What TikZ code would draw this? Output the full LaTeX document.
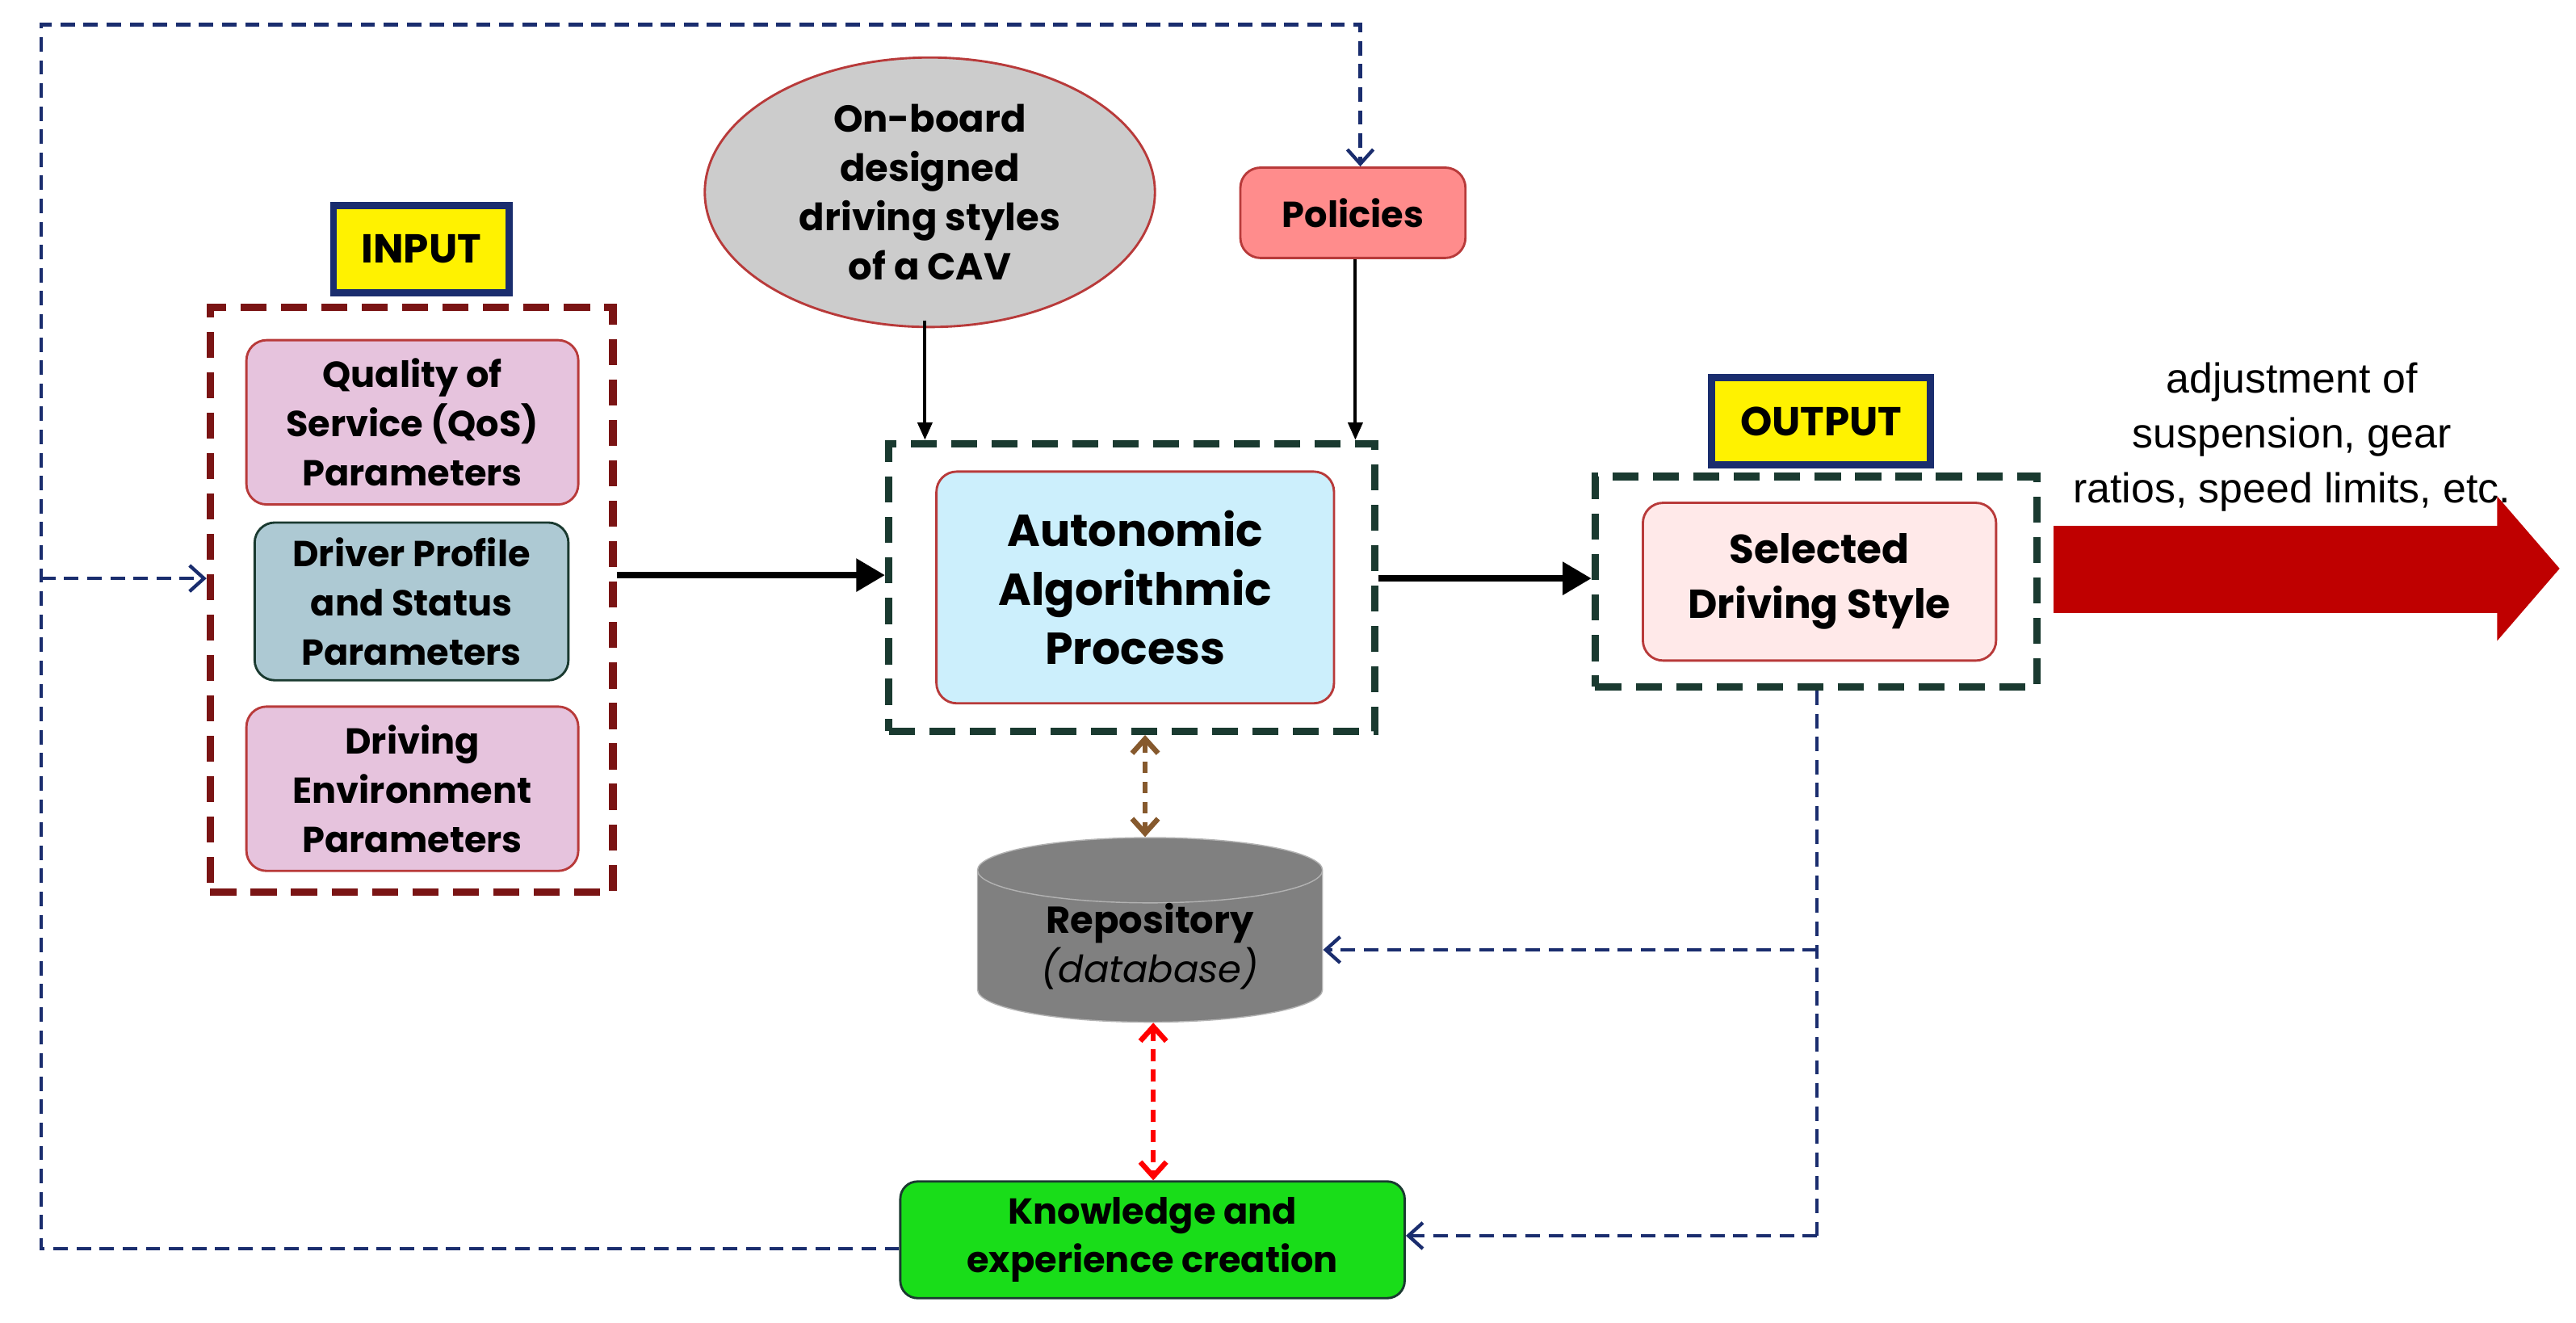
\documentclass[tikz,border=0pt]{standalone}
\usepackage{fontspec}
\setmainfont{Poppins}
\newfontfamily\arialf{Liberation Sans}
\usetikzlibrary{shapes.geometric,arrows.meta}
\definecolor{dred}{HTML}{7A1414}
\definecolor{dgreen}{HTML}{1A3A30}
\definecolor{dblue}{HTML}{1A2D6E}
\definecolor{bred}{HTML}{B83A3A}
\definecolor{pk}{HTML}{E6C3DD}
\definecolor{gb}{HTML}{ADC9D3}
\def\u{0.02cm}
\begin{document}
\begin{tikzpicture}[x=\u,y=-\u,
  lbl/.style={draw=dblue,line width=2.5pt,fill=yellow,font=\bfseries\fontsize{14}{16}\selectfont,inner sep=0},
  box/.style={draw=bred,line width=0.8pt,rounded corners=7pt,align=center,inner sep=0,font=\bfseries\fontsize{12.5}{17}\selectfont},
  dbox/.style={line width=2.6pt,dash pattern=on 9pt off 5pt},
  blu/.style={draw=dblue,line width=1.2pt,dash pattern=on 5pt off 3pt},
  bt/.style={-{Straight Barb[length=5pt,width=9pt]}}]
\useasboundingbox (0,0) rectangle (1568,805);
% input
\node[lbl,minimum width=107*\u,minimum height=53*\u] (in) at (256.5,151.5) {INPUT};
\node[draw=dred,dbox,minimum width=245*\u,minimum height=356*\u] (ibox) at (250.5,365) {};
\node[box,fill=pk,minimum width=202*\u,minimum height=100*\u] (qos) at (251,257) {Quality of\\Service (QoS)\\Parameters};
\node[box,draw=dgreen,fill=gb,minimum width=191*\u,minimum height=96*\u] (drv) at (250.5,366) {Driver Profile\\and Status\\Parameters};
\node[box,fill=pk,minimum width=202*\u,minimum height=100*\u] (env) at (251,480) {Driving\\Environment\\Parameters};
% ellipse
\node[ellipse,draw=bred,line width=0.8pt,fill=gray!40,minimum width=274*\u,minimum height=164*\u,align=center,inner sep=0,font=\bfseries\fontsize{13}{17}\selectfont] (ell) at (566,117) {On-board\\designed\\driving styles\\of a CAV};
\node[box,fill=red!45,minimum width=137*\u,minimum height=55*\u] (pol) at (823.5,129.5) {Policies};
% autonomic
\node[draw=dgreen,dbox,minimum width=296*\u,minimum height=175*\u] (abox) at (689,357.5) {};
\node[box,fill=cyan!20,minimum width=242*\u,minimum height=141*\u,font=\bfseries\fontsize{15.5}{20.5}\selectfont] (auto) at (691,357.5) {Autonomic\\Algorithmic\\Process};
% output
\node[lbl,minimum width=133*\u,minimum height=53*\u] (out) at (1108.5,256.5) {OUTPUT};
\node[draw=dgreen,dbox,minimum width=269*\u,minimum height=128*\u] (obox) at (1105.5,354) {};
\node[box,fill=pink!35,minimum width=215*\u,minimum height=96*\u,font=\bfseries\fontsize{14}{19}\selectfont] (sel) at (1107.5,354) {Selected\\Driving Style};
% big red arrow
\fill[red!75!black] (1250,320) -- (1520,320) -- (1520,302) -- (1558,346) -- (1520,390) -- (1520,373) -- (1250,373) -- cycle;
\node[align=center,font=\arialf\fontsize{14.5}{19}\selectfont] (adj) at (1395,266) {adjustment of\\suspension, gear\\ratios, speed limits, etc.};
% repository
\node[cylinder,shape border rotate=90,aspect=0.3,draw=gray!60,fill=gray!75!black!80,minimum width=210*\u,minimum height=108*\u,align=center,inner sep=0,font=\fontsize{13}{17}\selectfont] (rep) at (700,576) {\textbf{Repository}\\\textit{(database)}};
\node[box,draw=dgreen,fill=green!85!black!90,rounded corners=6pt,minimum width=307*\u,minimum height=71*\u] (kn) at (701.5,754.5) {Knowledge and\\experience creation};
% arrows
\draw[line width=2.3pt,-{Triangle[length=10pt,width=11pt]}] (ibox.east|-0,350) -- (abox.west|-0,350);
\draw[line width=2.3pt,-{Triangle[length=10pt,width=11pt]}] (abox.east|-0,352) -- (obox.west|-0,352);
\draw[line width=1.1pt,-{Triangle[length=6pt,width=5pt]}] (563,195) -- (abox.north-|563,0);
\draw[line width=1.1pt,-{Triangle[length=6pt,width=5pt]}] (pol.south-|825,0) -- (abox.north-|825,0);
\draw[brown!70!black,line width=1.8pt,dash pattern=on 4pt off 3pt,{Straight Barb[length=5pt,width=9pt]}-{Straight Barb[length=5pt,width=9pt]}] (abox.south-|697,0) -- (rep.north-|697,0);
\draw[red,line width=1.8pt,dash pattern=on 4pt off 3pt,{Straight Barb[length=5pt,width=9pt]}-{Straight Barb[length=5pt,width=9pt]}] (rep.south-|702,0) -- (kn.north-|702,0);
\coordinate (o1) at (1106,578);
\coordinate (o2) at (1106,752);
\draw[blu] (obox.south-|1106,0) -- (o2);
\draw[blu,bt] (o2) -- (kn.east|-o2);
\draw[blu,bt] (o1) -- (rep.east|-o1);
\coordinate (l1) at (25,760);
\coordinate (l2) at (25,15);
\coordinate (l3) at (828,15);
\coordinate (l4) at (25,352);
\draw[blu,bt] (kn.west|-l1) -- (l1) -- (l2) -- (l3) -- (pol.north-|l3);
\draw[blu,bt] (l4) -- (ibox.west|-l4);
\end{tikzpicture}
\end{document}
